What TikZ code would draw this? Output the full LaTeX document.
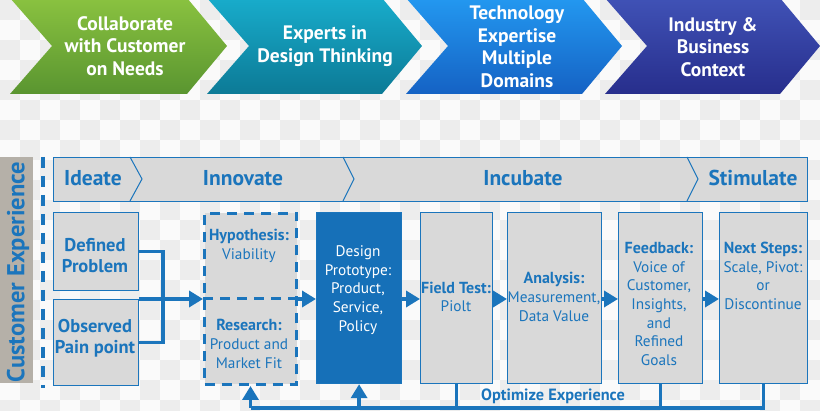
\documentclass[tikz,border=0pt]{standalone}
\usepackage{fontspec}
\setmainfont{PT Sans}
\usetikzlibrary{arrows.meta,calc}
\definecolor{bl}{HTML}{1B75BC}
\definecolor{bldark}{HTML}{1670B8}
\definecolor{boxg}{HTML}{D9D9D9}
\definecolor{chk}{HTML}{EDEDED}
\definecolor{barc}{HTML}{B5B0A8}
\definecolor{gT}{HTML}{8AC240}
\definecolor{gB}{HTML}{5A9530}
\definecolor{tT}{HTML}{18ACCB}
\definecolor{tB}{HTML}{0C7A96}
\definecolor{uT}{HTML}{2398F0}
\definecolor{uB}{HTML}{1562C4}
\definecolor{nT}{HTML}{4052B6}
\definecolor{nB}{HTML}{272E8C}
\newcommand\hdfont{\fontsize{16}{18.7}\selectfont\bfseries}
\begin{document}
\begin{tikzpicture}[x=1pt,y=-1pt,
  chevtxt/.style={text=white,align=center,font=\fontsize{19.5}{22.5}\selectfont\bfseries,inner sep=0},
  phase/.style={text=bl,font=\fontsize{21.5}{24}\selectfont\bfseries,inner sep=0},
  box/.style={draw=bl,line width=1.2,fill=boxg,anchor=north west,inner sep=0},
  txt/.style={text=bl,align=center,font=\fontsize{15.3}{18.7}\selectfont,inner sep=0},
  ln/.style={draw=bl,line width=3.5},
  arr/.style={draw=bl,line width=3.5,-{Triangle[length=14pt,width=16pt]}},
  sep/.style={draw=bl,line width=1}
]
\useasboundingbox (0,0) rectangle (820,411);
\fill[white!98!black] (0,0) rectangle (820,411);
\foreach \i in {0,...,40}{\foreach \j in {0,...,20}{%
  \pgfmathtruncatemacro\s{mod(\i+\j,2)}%
  \ifnum\s=0 \fill[chk] (\i*20,\j*20) rectangle ++(20,20);\fi}}

% top chevrons
\shade[top color=gT,bottom color=gB] (10,-2) -- (187,-2) -- (227,46) -- (187,94) -- (10,94) -- (52,46) -- cycle;
\shade[top color=tT,bottom color=tB] (207,-2) -- (382,-2) -- (422,46) -- (382,94) -- (207,94) -- (249,46) -- cycle;
\shade[top color=uT,bottom color=uB] (406,-2) -- (582,-2) -- (622,46) -- (582,94) -- (406,94) -- (448,46) -- cycle;
\shade[top color=nT,bottom color=nB] (605,-2) -- (780,-2) -- (820,46) -- (780,94) -- (605,94) -- (647,46) -- cycle;
\node[chevtxt] (c1) at (125,46) {Collaborate\\with Customer\\on Needs};
\node[chevtxt] (c2) at (325,46) {Experts in\\Design Thinking};
\node[chevtxt] (c3) at (517,47) {Technology\\Expertise\\Multiple\\Domains};
\node[chevtxt] (c4) at (713,47) {Industry \&\\Business\\Context};

% customer experience bar
\fill[barc] (0,157) rectangle (33,383);
\node[text=bl,font=\fontsize{24.5}{26}\selectfont\bfseries,rotate=90,inner sep=0] (cx) at (18,272) {Customer Experience};
\draw[bl,line width=3.5,dash pattern=on 11 off 8] (43,157) -- (43,388);

% phase band
\node[box,minimum width=754,minimum height=44] (band) at (53,157) {};
\draw[sep] (130,157) -- (142,179) -- (130,201);
\draw[sep] (343,157) -- (354,179) -- (343,201);
\draw[sep] (687,157) -- (698,179) -- (687,201);
\node[phase] (p1) at (93,178) {Ideate};
\node[phase] (p2) at (243,178) {Innovate};
\node[phase] (p3) at (523,178) {Incubate};
\node[phase] (p4) at (753,178) {Stimulate};

% boxes
\node[box,minimum width=85,minimum height=78] (dp) at (53,212) {};
\node[box,minimum width=85,minimum height=86] (op) at (53,299) {};
\node[box,draw=bl,line width=3,dash pattern=on 10 off 7,minimum width=92,minimum height=171] (hyp) at (203,212) {};
\draw[bl,line width=3,dash pattern=on 10 off 7] (203,299) -- (295,299);
\node[box,fill=bldark,minimum width=85,minimum height=171] (pr) at (316,212) {};
\node[box,minimum width=72,minimum height=171] (ft) at (420,212) {};
\node[box,minimum width=94,minimum height=171] (an) at (507,212) {};
\node[box,minimum width=84,minimum height=171] (fb) at (618,212) {};
\node[box,minimum width=88,minimum height=171] (ns) at (719,212) {};

% texts
\node[txt,font=\fontsize{18.5}{21}\selectfont\bfseries] (dpt) at (95,256) {Defined\\Problem};
\node[txt,font=\fontsize{18.5}{21}\selectfont\bfseries] (opt) at (95,338) {Observed\\Pain point};
\node[txt] (hypt) at (249,246) {{\hdfont Hypothesis:}\\Viability};
\node[txt] (rest) at (249,344) {{\hdfont Research:}\\Product and\\Market Fit};
\node[txt,text=white] (prt) at (358,290) {Design\\Prototype:\\Product,\\Service,\\Policy};
\node[txt] (ftt) at (456,297) {{\hdfont Field Test:}\\Piolt};
\node[txt] (ant) at (554,297) {{\hdfont Analysis:}\\Measurement,\\Data Value};
\node[txt] (fbt) at (659,304) {{\hdfont Feedback:}\\Voice of\\Customer,\\Insights,\\and\\Refined\\Goals};
\node[txt] (nst) at (763,276) {{\hdfont Next Steps:}\\Scale, Pivot:\\or\\Discontinue};

% connectors
\coordinate (bk) at (163,299);
\draw[ln] (dp.east) -| (bk) |- (op.east);
\draw[arr] (op.east |- bk) -- (hyp.west |- bk);
\draw[arr] (hyp.east |- bk) -- (pr.west |- bk);
\draw[arr] (pr.east |- bk) -- (ft.west |- bk);
\draw[arr] (ft.east |- bk) -- (an.west |- bk);
\draw[arr] (an.east |- bk) -- (fb.west |- bk);
\draw[arr] (fb.east |- bk) -- (ns.west |- bk);

% loop
\coordinate (lp) at (0,408);
\draw[ln] (hyp.south |- lp) -- (ns.south |- lp) -- (ns.south);
\draw[ln] (ft.south) -- (ft.south |- lp);
\draw[ln] (fb.south) -- (fb.south |- lp);
\draw[arr] (hyp.south |- lp) -- (hyp.south);
\draw[arr] (pr.south |- lp) -- (pr.south);
\node[text=bl,font=\fontsize{16.3}{18}\selectfont\bfseries,inner sep=0] (opx) at (553,396) {Optimize Experience};
\end{tikzpicture}
\end{document}
